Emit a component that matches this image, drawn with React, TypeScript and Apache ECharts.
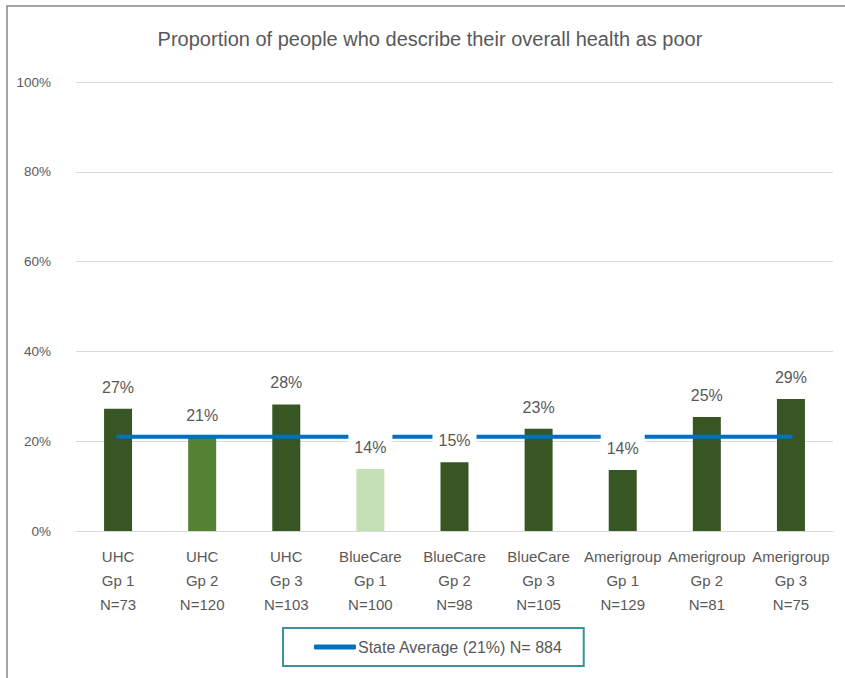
import React, { useEffect, useRef } from "react";
import * as echarts from "echarts";

const plans = ["UHC", "UHC", "UHC", "BlueCare", "BlueCare", "BlueCare", "Amerigroup", "Amerigroup", "Amerigroup"];
const groups = ["Gp 1", "Gp 2", "Gp 3", "Gp 1", "Gp 2", "Gp 3", "Gp 1", "Gp 2", "Gp 3"];
const sampleSizes = [73, 120, 103, 100, 98, 105, 129, 81, 75];
const poorHealthPct = [27.2, 20.9, 28.2, 13.8, 15.3, 22.8, 13.6, 25.4, 29.4];
const barColors = ["#375623", "#548235", "#375623", "#C5E0B4", "#375623", "#375623", "#375623", "#375623", "#375623"];
const stateAverage = 21;
const stateN = 884;
const yTicks = [0, 20, 40, 60, 80, 100];

const categories = plans.map((p, i) => `${p}\n${groups[i]}\nN=${sampleSizes[i]}`);
const FONT = "'Liberation Sans', Arial, sans-serif";

export default function App() {
  const ref = useRef<HTMLDivElement>(null);
  useEffect(() => {
    if (!ref.current) return;
    const chart = echarts.init(ref.current, undefined, { renderer: "svg" });
    const legendName = `State Average (${stateAverage}%) N= ${stateN}`;
    chart.setOption({
      animation: false,
      backgroundColor: "#ffffff",
      title: {
        text: "Proportion of people who describe their overall health as poor",
        left: 430,
        textAlign: "center",
        top: 29,
        padding: 0,
        textStyle: { fontFamily: FONT, fontSize: 20, fontWeight: "normal", color: "#595959" },
      },
      graphic: [
        {
          type: "rect",
          shape: { x: 7, y: 6, width: 1000, height: 1000 },
          style: { fill: "none", stroke: "#878787", lineWidth: 1.5 },
          silent: true,
        },
      ],
      legend: {
        data: [{ name: legendName, icon: "roundRect" }],
        left: 283,
        top: 628,
        padding: [11, 21, 11, 31],
        borderColor: "#3A9198",
        borderWidth: 2,
        itemWidth: 42,
        itemHeight: 5,
        textStyle: { fontFamily: FONT, fontSize: 16, color: "#595959", padding: [0, 0, 0, -3] },
      },
      grid: { left: 76, right: 12, top: 82, bottom: 147 },
      xAxis: {
        type: "category",
        data: categories,
        axisLine: { show: true, lineStyle: { color: "#D9D9D9", width: 1 } },
        axisTick: { show: false },
        axisLabel: {
          interval: 0,
          margin: 13,
          lineHeight: 24,
          fontFamily: FONT,
          fontSize: 15,
          color: "#595959",
        },
      },
      yAxis: {
        type: "value",
        min: 0,
        max: 100,
        interval: 20,
        axisLine: { show: false },
        axisTick: { show: false },
        splitLine: { lineStyle: { color: "#D9D9D9", width: 1 } },
        axisLabel: {
          margin: 25,
          fontFamily: FONT,
          fontSize: 13.5,
          color: "#595959",
          formatter: (v: number) => (yTicks.includes(v) ? `${v}%` : ""),
        },
      },
      series: [
        {
          type: "bar",
          name: "Poor health",
          barWidth: 28,
          z: 2,
          data: poorHealthPct.map((v, i) => ({ value: v, itemStyle: { color: barColors[i] } })),
        },
        {
          type: "line",
          name: legendName,
          data: poorHealthPct.map(() => stateAverage),
          symbol: "none",
          z: 3,
          color: "#0070C0",
          lineStyle: { color: "#0070C0", width: 4, cap: "round" },
        },
        {
          type: "scatter",
          name: "labels",
          data: poorHealthPct,
          symbolSize: 1,
          z: 4,
          itemStyle: { color: "rgba(0,0,0,0)", opacity: 1 },
          label: {
            show: true,
            position: "top",
            distance: 10,
            formatter: (p: any) => `${Math.round(p.value)}%`,
            fontFamily: FONT,
            fontSize: 16,
            lineHeight: 18,
            color: "#595959",
            backgroundColor: "#ffffff",
            padding: [8, 6, 2, 6],
          },
          emphasis: { disabled: true },
        },
      ],
    });
    return () => chart.dispose();
  }, []);
  return <div ref={ref} style={{ position: "fixed", left: 0, top: 0, width: 845, height: 678 }} />;
}
